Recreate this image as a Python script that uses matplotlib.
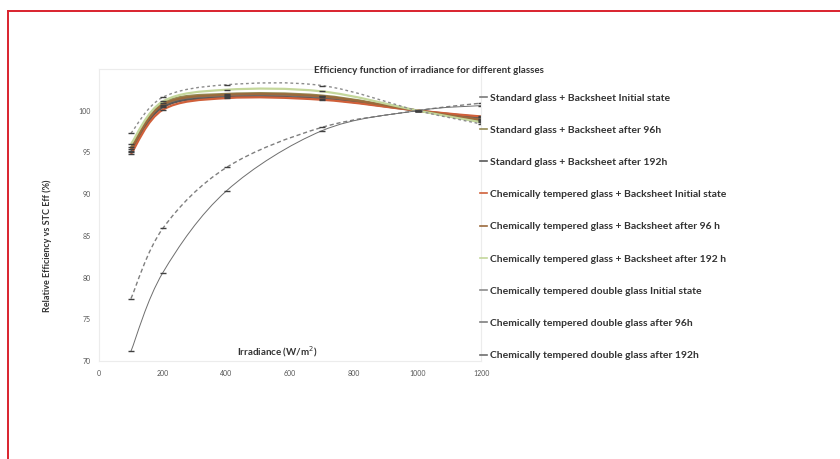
import numpy as np
import matplotlib
matplotlib.use("Agg")
import matplotlib.pyplot as plt
from matplotlib.path import Path
from matplotlib.patches import PathPatch
from matplotlib.lines import Line2D

plt.rcParams['font.family'] = ['Lato', 'DejaVu Sans']

irradiance = [100, 200, 400, 700, 1000, 1200]

std_initial = [95.2, 100.6, 101.8, 101.6, 100.0, 99.0]
std_96h = [95.6, 100.9, 102.0, 101.8, 100.0, 98.8]
std_192h = [95.0, 100.4, 101.6, 101.4, 100.0, 99.2]
chem_initial = [94.8, 100.1, 101.5, 101.3, 100.0, 99.3]
chem_96h = [95.4, 100.7, 101.9, 101.7, 100.0, 98.9]
chem_192h = [96.0, 101.1, 102.5, 102.3, 100.0, 98.6]
double_initial = [97.3, 101.6, 103.1, 103.0, 100.0, 98.4]
double_96h = [77.5, 85.9, 93.2, 98.0, 100.0, 100.9]
double_192h = [71.2, 80.6, 90.4, 97.6, 100.0, 100.6]

labels = [
    "Standard glass + Backsheet Initial state",
    "Standard glass + Backsheet after 96h",
    "Standard glass + Backsheet after 192h",
    "Chemically tempered glass + Backsheet Initial state",
    "Chemically tempered glass + Backsheet after 96 h",
    "Chemically tempered glass + Backsheet after 192 h",
    "Chemically tempered double glass Initial state",
    "Chemically tempered double glass after 96h",
    "Chemically tempered double glass after 192h",
]
series = [std_initial, std_96h, std_192h, chem_initial, chem_96h,
          chem_192h, double_initial, double_96h, double_192h]
colors = ['#7a7a7a', '#948a54', '#595959', '#d0603a', '#9b6a3c',
          '#c4d79b', '#8c8c8c', '#7f7f7f', '#6e6e6e']
styles = ['-', '-', '-', '-', '-', '-', (0, (2, 2)), (0, (3, 2)), '-']
widths = [1.6, 1.6, 1.6, 1.6, 1.6, 1.6, 1.0, 1.0, 0.7]


def smooth_path(xs, ys):
    # Excel-like smoothed line: Catmull-Rom segments as cubic Beziers
    pts = np.column_stack([xs, ys]).astype(float)
    verts = [pts[0]]
    codes = [Path.MOVETO]
    n = len(pts)
    for i in range(n - 1):
        p0 = pts[i - 1] if i > 0 else pts[i]
        p1 = pts[i]
        p2 = pts[i + 1]
        p3 = pts[i + 2] if i + 2 < n else pts[i + 1]
        c1 = p1 + (p2 - p0) / 6.0
        c2 = p2 - (p3 - p1) / 6.0
        verts += [c1, c2, p2]
        codes += [Path.CURVE4] * 3
    return Path(verts, codes)


fig = plt.figure(figsize=(8.4, 4.59), dpi=100)
ax = fig.add_axes([0.118, 0.213, 0.455, 0.637])

for ys, c, ls, lw in zip(series, colors, styles, widths):
    patch = PathPatch(smooth_path(irradiance, ys), facecolor='none',
                      edgecolor=c, linestyle=ls, linewidth=lw)
    ax.add_patch(patch)
    ax.plot(irradiance, ys, linestyle='none', marker='_', markersize=4,
            color='#404040', markeredgewidth=1.0)

ax.set_xlim(0, 1200)
ax.set_ylim(70, 105)
ax.set_xticks(range(0, 1201, 200))
ax.set_yticks(range(70, 101, 5))
ax.tick_params(length=0, labelsize=5, colors='#555555', pad=6)
for s in ax.spines.values():
    s.set_color('#ececec')
    s.set_linewidth(0.8)

ax.text(560, 71.2, "Irradiance (W/m$^2$)", ha='center', va='center',
        fontsize=7, fontweight='bold', color='#333333')
fig.text(0.056, 0.465, "Relative Efficiency vs STC Eff (%)", rotation=90,
         ha='center', va='center', fontsize=6.5, fontweight='bold',
         color='#333333')
fig.text(0.511, 0.847, "Efficiency function of irradiance for different glasses",
         ha='center', va='center', fontsize=7, fontweight='bold',
         color='#333333')

handles = [Line2D([0], [0], color=c, lw=1.2) for c in colors]
leg = fig.legend(handles, labels, loc='upper left',
                 bbox_to_anchor=(0.567, 0.806), frameon=False,
                 fontsize=7.5, handlelength=0.6, handletextpad=0.3,
                 labelspacing=2.2, borderaxespad=0)
for t in leg.get_texts():
    t.set_fontweight('bold')
    t.set_color('#333333')

# red frame on the left and top of the picture
fig.add_artist(Line2D([0.009, 0.009], [0.0, 0.975], color='#d9232d',
                      lw=1.4, transform=fig.transFigure))
fig.add_artist(Line2D([0.009, 1.0], [0.975, 0.975], color='#d9232d',
                      lw=1.4, transform=fig.transFigure))

fig.savefig("out.png", dpi=100)
